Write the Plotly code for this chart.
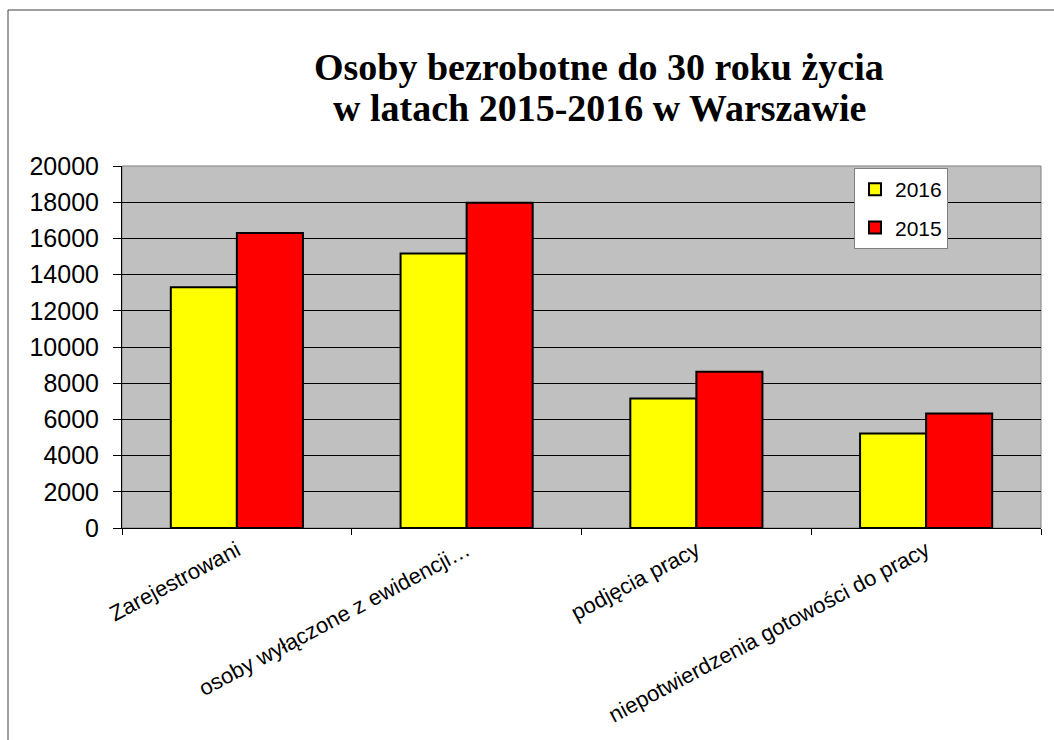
import plotly.graph_objects as go

categories = ["Zarejestrowani", "osoby wyłączone z ewidencji…", "podjęcia pracy",
              "niepotwierdzenia gotowości do pracy"]
values_2016 = [13300, 15170, 7150, 5220]
values_2015 = [16300, 17970, 8630, 6330]
y_ticks = [0, 2000, 4000, 6000, 8000, 10000, 12000, 14000, 16000, 18000, 20000]
title_lines = ["Osoby bezrobotne do 30 roku życia", "w latach 2015-2016 w Warszawie"]

W, H = 1054, 740
ml, mr, mt, mb = 122, 13, 166, 212
pw, ph = W - ml - mr, H - mt - mb

def px(x):
    return (x - ml) / pw

def py(y):
    return (H - mb - y) / ph

fig = go.Figure()
fig.add_trace(go.Bar(x=categories, y=values_2016, name="2016", legendgroup="a",
                     marker=dict(color="#FFFF00", line=dict(color="#000000", width=2))))
fig.add_trace(go.Bar(x=categories, y=values_2015, name="2015", legendgroup="b",
                     marker=dict(color="#FF0000", line=dict(color="#000000", width=2))))

fig.update_layout(
    width=W, height=H,
    margin=dict(l=ml, r=mr, t=mt, b=mb, autoexpand=False),
    paper_bgcolor="white",
    plot_bgcolor="#C0C0C0",
    barmode="group", bargap=0.425, bargroupgap=0,
    font=dict(family="Liberation Sans, Arial", size=22, color="black"),
    legend=dict(x=px(854), y=py(168), xanchor="left", yanchor="top",
                bgcolor="white", bordercolor="#808080", borderwidth=1,
                font=dict(family="Liberation Sans, Arial", size=21, color="black"),
                tracegroupgap=8, traceorder="grouped", itemwidth=30),
    xaxis=dict(showline=True, linecolor="#000000", linewidth=1, mirror=False,
               ticks="outside", tickson="boundaries", ticklen=6, tickcolor="#000000",
               tickangle=-28, showgrid=False, automargin=False,
               tickfont=dict(family="Liberation Sans, Arial", size=22)),
    yaxis=dict(range=[0, 20000], tickvals=y_ticks, tickformat="d", showline=True,
               linecolor="#000000", linewidth=1, ticks="outside", ticklen=8,
               tickcolor="#000000", ticklabelstandoff=9, automargin=False,
               showgrid=True, gridcolor="#000000", gridwidth=1, zeroline=False,
               tickfont=dict(family="Liberation Sans, Arial", size=25)),
)

for line, yc in zip(title_lines, [67, 108]):
    fig.add_annotation(text="<b>" + line + "</b>", xref="paper", yref="paper",
                       x=px(599), y=py(yc), xanchor="center", yanchor="middle",
                       showarrow=False,
                       font=dict(family="Liberation Serif, Times New Roman", size=38,
                                 color="black"))

# plot area border
fig.add_shape(type="rect", xref="paper", yref="paper", x0=0, y0=0, x1=1, y1=1,
              line=dict(color="#808080", width=1), layer="below")
# outer frame
fig.add_shape(type="rect", xref="paper", yref="paper",
              x0=px(8), y0=py(H + 20), x1=px(W + 20), y1=py(10),
              line=dict(color="#404040", width=1))

fig.write_html("out.html", config={"displayModeBar": False},
               post_script="document.body.style.margin='0';document.body.style.padding='0';")
